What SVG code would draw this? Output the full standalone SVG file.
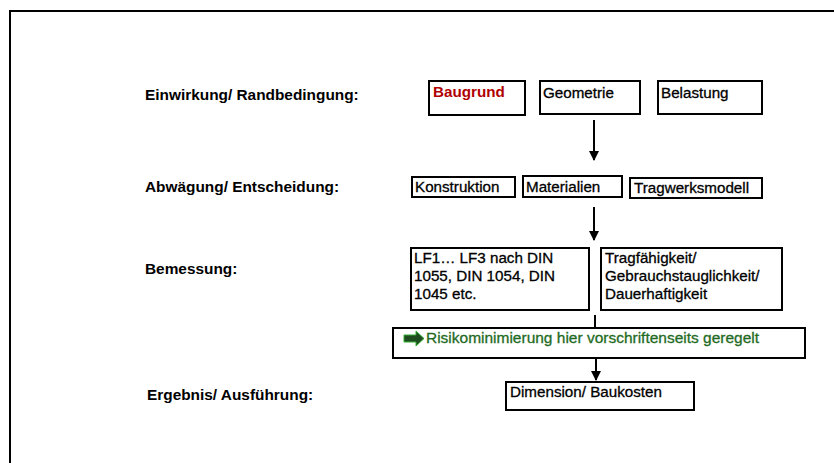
<svg xmlns="http://www.w3.org/2000/svg" width="834" height="463" viewBox="0 0 834 463">
<defs>
<style>
.box{fill:#fff;stroke:#000;stroke-width:2}
.t{font-family:"Liberation Sans",Arial,sans-serif;font-size:15.2px;fill:#000;stroke:#000;stroke-width:0.3}
.lbl{font-family:"Liberation Sans",Arial,sans-serif;font-size:15.4px;font-weight:bold;fill:#000}
.conn{stroke:#000;stroke-width:2;fill:none}
</style>
<marker id="ah" viewBox="0 0 10 10" refX="9" refY="5" markerWidth="5" markerHeight="5" orient="auto" markerUnits="strokeWidth">
<path d="M0,0 L10,5 L0,10 Z" fill="#000"/>
</marker>
</defs>
<rect x="0" y="0" width="834" height="463" fill="#fff"/>
<rect x="10" y="11" width="840" height="470" fill="none" stroke="#000" stroke-width="2"/>
<g id="labels">
<text class="lbl" x="145" y="100">Einwirkung/ Randbedingung:</text>
<text class="lbl" x="145" y="192">Abwägung/ Entscheidung:</text>
<text class="lbl" x="145" y="274">Bemessung:</text>
<text class="lbl" x="147" y="400">Ergebnis/ Ausführung:</text>
</g>
<g id="connectors">
<line class="conn" x1="594" y1="120" x2="594" y2="160" marker-end="url(#ah)"/>
<line class="conn" x1="594" y1="207" x2="594" y2="240" marker-end="url(#ah)"/>
<line class="conn" x1="595" y1="315" x2="595" y2="328"/>
<line class="conn" x1="596" y1="358" x2="596" y2="380" marker-end="url(#ah)"/>
</g>
<g id="baugrund">
<rect class="box" x="429" y="81" width="96" height="34"/>
<text class="t" x="433" y="97" font-weight="bold" style="fill:#b00000;stroke:none">Baugrund</text>
</g>
<g id="geometrie">
<rect class="box" x="540" y="81" width="100" height="33"/>
<text class="t" x="543" y="98">Geometrie</text>
</g>
<g id="belastung">
<rect class="box" x="658" y="81" width="104" height="33"/>
<text class="t" x="661" y="98">Belastung</text>
</g>
<g id="konstruktion">
<rect class="box" x="412" y="177" width="103" height="20"/>
<text class="t" x="415" y="192">Konstruktion</text>
</g>
<g id="materialien">
<rect class="box" x="523" y="176" width="99" height="21"/>
<text class="t" x="526" y="192">Materialien</text>
</g>
<g id="tragwerksmodell">
<rect class="box" x="630" y="178" width="132" height="20"/>
<text class="t" x="634" y="193">Tragwerksmodell</text>
</g>
<g id="lf">
<rect class="box" x="411" y="248" width="178" height="62"/>
<text class="t" x="414" y="263">LF1… LF3 nach DIN</text>
<text class="t" x="414" y="281">1055, DIN 1054, DIN</text>
<text class="t" x="414" y="299">1045 etc.</text>
</g>
<g id="tragfaehigkeit">
<rect class="box" x="601" y="248" width="181" height="62"/>
<text class="t" x="605" y="263">Tragfähigkeit/</text>
<text class="t" x="605" y="281">Gebrauchstauglichkeit/</text>
<text class="t" x="605" y="299">Dauerhaftigkeit</text>
</g>
<g id="risiko">
<rect class="box" x="393" y="328" width="412" height="30"/>
<path d="M404,335 L416,335 L416,331 L424,338.5 L416,346 L416,342 L404,342 Z" fill="#1f4d1f" stroke="#33b033" stroke-width="1"/>
<text class="t" x="426" y="343" textLength="333" lengthAdjust="spacingAndGlyphs" style="fill:#1f6b1f;stroke:#1f6b1f">Risikominimierung hier vorschriftenseits geregelt</text>
</g>
<g id="dimension">
<rect class="box" x="506" y="382" width="188" height="28"/>
<text class="t" x="510" y="397">Dimension/ Baukosten</text>
</g>
</svg>
